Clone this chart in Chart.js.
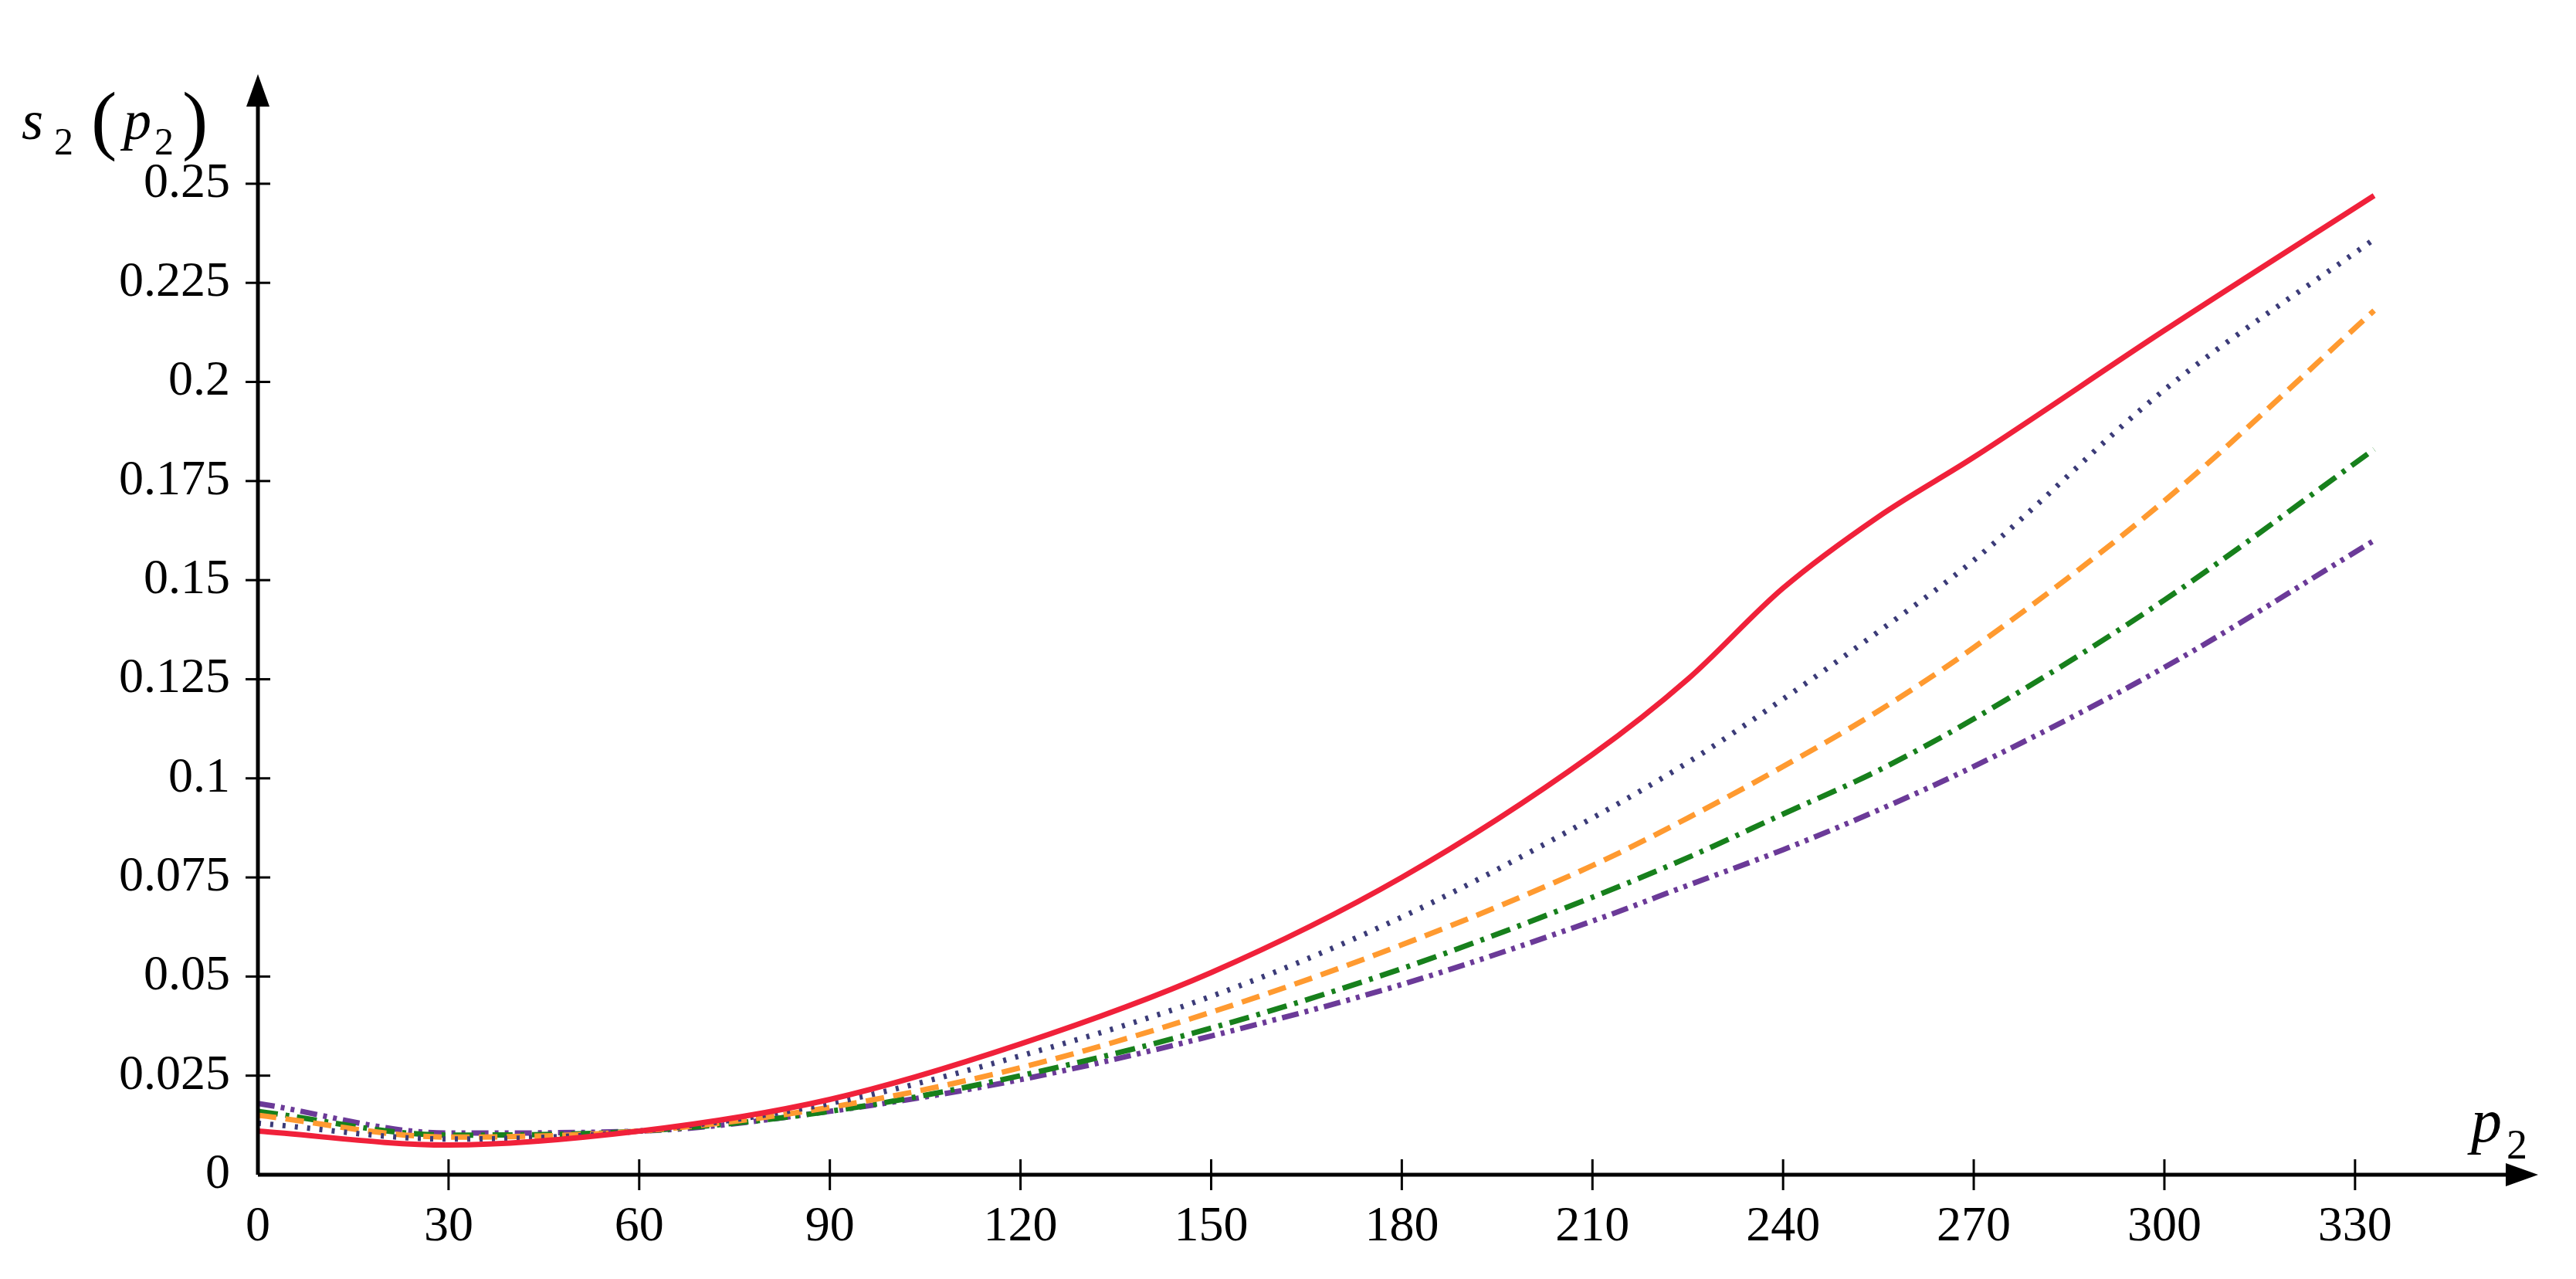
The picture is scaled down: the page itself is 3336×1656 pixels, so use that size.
<!DOCTYPE html>
<html><head><meta charset="utf-8">
<script src="https://cdn.jsdelivr.net/npm/chart.js@4"></script>
<style>html,body{margin:0;padding:0;background:#fff}#c{display:block}</style>
</head><body>
<div style="width:3336px;height:1656px"><canvas id="c"></canvas></div>
<script>
const xValues = [0,30,60,90,120,150,180,210,225,240,255,270,300,333];
const red    = [0.011,0.0075,0.011,0.019,0.033,0.051,0.075,0.106,0.125,0.148,0.166,0.181,0.213,0.247];
const navy   = [0.013,0.009,0.011,0.018,0.030,0.045,0.065,0.090,0.104,0.120,0.137,0.155,0.198,0.236];
const orange = [0.015,0.0095,0.011,0.017,0.027,0.041,0.058,0.078,0.090,0.103,0.117,0.133,0.170,0.218];
const green  = [0.016,0.010,0.011,0.016,0.025,0.037,0.052,0.070,0.080,0.091,0.102,0.115,0.145,0.183];
const purple = [0.018,0.0105,0.011,0.016,0.024,0.035,0.048,0.064,0.073,0.082,0.092,0.103,0.128,0.160];
const xTicks = [0,30,60,90,120,150,180,210,240,270,300,330];
const yTicks = [0,0.025,0.05,0.075,0.1,0.125,0.15,0.175,0.2,0.225,0.25];
const yTickLabels = ['0','0.025','0.05','0.075','0.1','0.125','0.15','0.175','0.2','0.225','0.25'];

const pts = a => a.map((v,i)=>({x:xValues[i],y:v}));
const ds = (d,c,dash)=>({data:pts(d),borderColor:c,borderWidth:7,borderDash:dash,pointRadius:0,fill:false,cubicInterpolationMode:'monotone'});
const FONT = '"Liberation Serif", "DejaVu Serif", serif';

const axes = {
  id:'axes',
  afterDraw(chart){
    const {ctx, chartArea:a, scales:{x,y}} = chart;
    ctx.save();
    ctx.strokeStyle='#000'; ctx.fillStyle='#000'; ctx.lineWidth=5;
    const x0=x.getPixelForValue(0), y0=y.getPixelForValue(0);
    ctx.beginPath(); ctx.moveTo(x0,y0); ctx.lineTo(a.right-30,y0); ctx.moveTo(x0,y0); ctx.lineTo(x0,a.top+30); ctx.stroke();
    ctx.beginPath(); ctx.moveTo(a.right+10,y0); ctx.lineTo(a.right-32,y0-15); ctx.lineTo(a.right-32,y0+15); ctx.closePath(); ctx.fill();
    ctx.beginPath(); ctx.moveTo(x0,a.top-10); ctx.lineTo(x0-15,a.top+32); ctx.lineTo(x0+15,a.top+32); ctx.closePath(); ctx.fill();
    ctx.lineWidth=3;
    xTicks.forEach(t=>{ if(!t) return; const px=x.getPixelForValue(t); ctx.beginPath(); ctx.moveTo(px,y0-20); ctx.lineTo(px,y0+20); ctx.stroke();});
    yTicks.forEach(t=>{ if(!t) return; const py=y.getPixelForValue(t); ctx.beginPath(); ctx.moveTo(x0-16,py); ctx.lineTo(x0+16,py); ctx.stroke();});
    ctx.font='italic 72px '+FONT; ctx.textBaseline='alphabetic';
    ctx.fillText('s',28,180); ctx.font='50px '+FONT; ctx.fillText('2',70,200);
    ctx.font='100px '+FONT; ctx.fillText('(',118,188);
    ctx.font='italic 72px '+FONT; ctx.fillText('p',160,180); ctx.font='50px '+FONT; ctx.fillText('2',200,200);
    ctx.font='100px '+FONT; ctx.fillText(')',236,188);
    ctx.font='italic 80px '+FONT; ctx.fillText('p',3200,1478); ctx.font='54px '+FONT; ctx.fillText('2',3246,1500);
    ctx.restore();
  }
};

new Chart(document.getElementById('c'),{
  type:'line',
  data:{datasets:[
    ds(red,'#f0213a',[]),
    ds(navy,'#3b3b78',[4,12]),
    ds(orange,'#ff9a30',[24,12]),
    ds(green,'#17801c',[26,10,5,10]),
    ds(purple,'#6b3a98',[22,8,5,8,5,8])
  ]},
  options:{
    responsive:true, maintainAspectRatio:false, animation:false,
    layout:{padding:{top:106,right:59,left:0,bottom:0}},
    plugins:{legend:{display:false},tooltip:{enabled:false}},
    scales:{
      x:{type:'linear',min:0,max:357.6,grid:{display:false},border:{display:false},
        afterBuildTicks:s=>{s.ticks=xTicks.map(v=>({value:v}));},
        afterFit:s=>{s.height=135;},
        ticks:{font:{family:FONT,size:64},color:'#000',padding:22,maxRotation:0,autoSkip:false,callback:v=>String(v)}},
      y:{min:0,max:0.2757,grid:{display:false},border:{display:false},
        afterBuildTicks:s=>{s.ticks=yTicks.map(v=>({value:v}));},
        afterFit:s=>{s.width=334;},
        ticks:{font:{family:FONT,size:64},color:'#000',padding:28,autoSkip:false,callback:v=>yTickLabels[yTicks.indexOf(v)] ?? ''}}
    }
  },
  plugins:[axes]
});
</script></body></html>
